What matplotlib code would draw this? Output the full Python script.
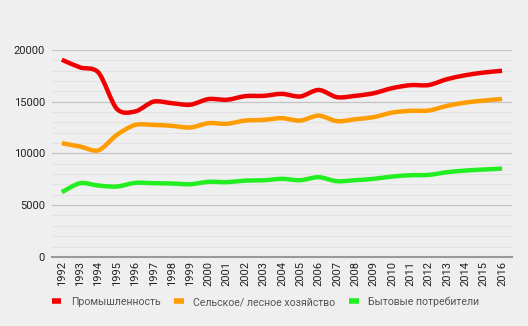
import matplotlib
matplotlib.use("Agg")
import matplotlib.pyplot as plt
from matplotlib.ticker import MultipleLocator
from matplotlib.lines import Line2D
from matplotlib.path import Path
from matplotlib.patches import PathPatch

years = list(range(1992, 2017))
industry = [19050, 18300, 17800, 14300, 14050, 15000, 14850, 14700, 15250, 15180,
            15530, 15560, 15750, 15500, 16130, 15430, 15560, 15810, 16300, 16590,
            16600, 17170, 17550, 17810, 17980]
agri = [10980, 10660, 10300, 11790, 12750, 12750, 12660, 12500, 12920, 12860,
        13170, 13240, 13400, 13170, 13650, 13110, 13300, 13500, 13940, 14110,
        14140, 14590, 14910, 15100, 15260]
household = [6250, 7120, 6890, 6800, 7150, 7120, 7090, 7020, 7250, 7220,
             7370, 7400, 7540, 7410, 7700, 7310, 7410, 7540, 7760, 7890,
             7920, 8180, 8340, 8440, 8530]
labels = ["Промышленность", "Сельское/ лесное хозяйство", "Бытовые потребители"]
colors = ["#f00000", "#ff9c00", "#22ee22"]
yticks = [0, 5000, 10000, 15000, 20000]


def smooth_path(xs, ys, t=0.3):
    """Bezier path through the data points (curve rendering only)."""
    verts = [(xs[0], ys[0])]
    codes = [Path.MOVETO]
    n = len(xs)
    for i in range(n - 1):
        x0, y0 = (xs[i - 1], ys[i - 1]) if i > 0 else (xs[i], ys[i])
        x1, y1 = xs[i], ys[i]
        x2, y2 = xs[i + 1], ys[i + 1]
        x3, y3 = (xs[i + 2], ys[i + 2]) if i + 2 < n else (xs[i + 1], ys[i + 1])
        c1 = (x1 + (x2 - x0) * t / 2, y1 + (y2 - y0) * t / 2)
        c2 = (x2 - (x3 - x1) * t / 2, y2 - (y3 - y1) * t / 2)
        verts += [c1, c2, (x2, y2)]
        codes += [Path.CURVE4] * 3
    return Path(verts, codes)


plt.rcParams['font.family'] = ['Roboto', 'DejaVu Sans']
bg = "#efefef"
fig = plt.figure(figsize=(5.28, 3.26), dpi=100, facecolor=bg)
ax = fig.add_axes([0.098, 0.212, 0.872, 0.635], facecolor=bg)

for s, c in zip([industry, agri, household], colors):
    ax.add_patch(PathPatch(smooth_path(years, s), facecolor='none', edgecolor=c,
                           lw=3.2, capstyle='butt', joinstyle='round', zorder=3))

ax.set_xlim(1991.45, 2016.55)
ax.set_ylim(0, 20000)
ax.set_yticks(yticks)
ax.yaxis.set_minor_locator(MultipleLocator(1000))
ax.set_xticks(years)
ax.set_xticklabels([str(y) for y in years], rotation=90)
ax.grid(axis='y', which='major', color='#c4c4c4', lw=0.9, zorder=1)
ax.grid(axis='y', which='minor', color='#e2e2e2', lw=0.7, zorder=1)
ax.tick_params(axis='both', which='both', length=0, colors='#222222', labelsize=8)
ax.tick_params(axis='y', pad=5)
ax.tick_params(axis='x', pad=3)
for sp in ['top', 'right', 'left']:
    ax.spines[sp].set_visible(False)
ax.spines['bottom'].set_color('#999999')
ax.spines['bottom'].set_linewidth(1.5)
ax.spines['bottom'].set_zorder(2)

handles = [Line2D([0], [0], color=c, lw=4, solid_capstyle='butt') for c in colors]
leg = fig.legend(handles, labels, loc='center', bbox_to_anchor=(0.503, 0.074), ncol=3,
                 frameon=False, fontsize=7.6, handlelength=0.9, handletextpad=0.9,
                 columnspacing=1.3, labelcolor='#555555')

fig.savefig("out.png", dpi=100, facecolor=bg)
